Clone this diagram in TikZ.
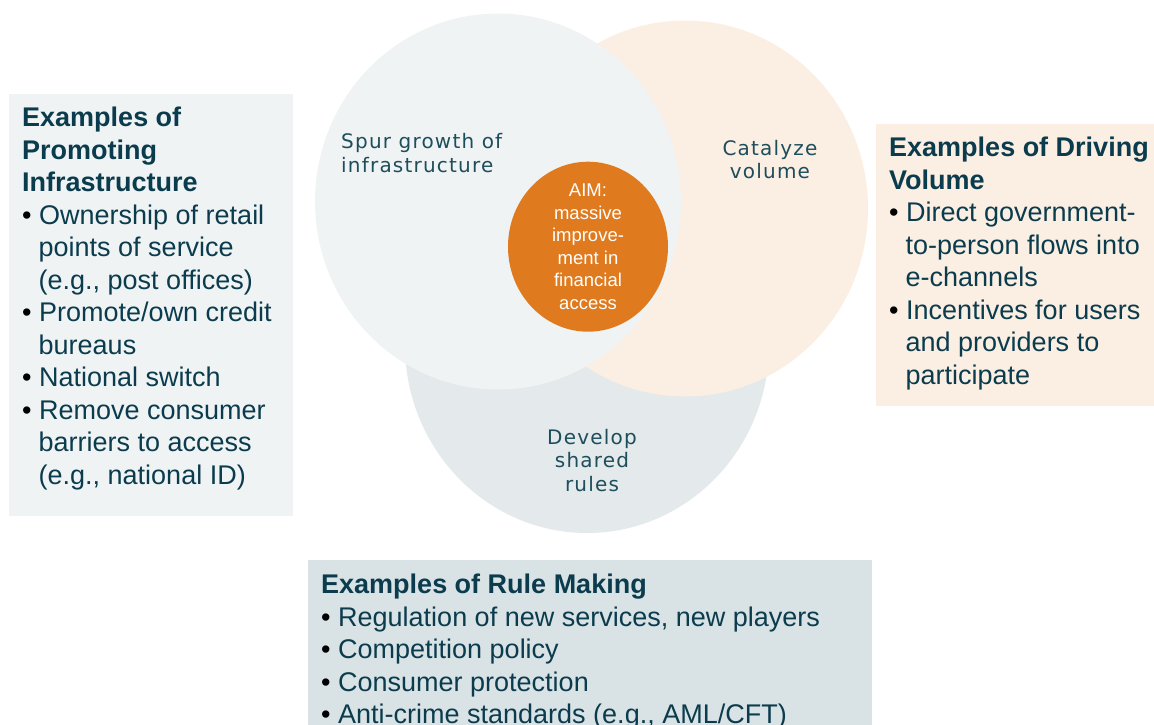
\documentclass[tikz,border=0pt]{standalone}
\usepackage{fontspec}
\usetikzlibrary{shapes.geometric}
\setmainfont{Liberation Sans}
\newfontfamily\circfont[LetterSpace=6]{DejaVu Sans}
\definecolor{inkteal}{HTML}{0B3C4D}
\definecolor{labelteal}{HTML}{1D4E5C}
\definecolor{infrafill}{HTML}{F0F3F4}
\definecolor{volfill}{HTML}{FBEEE3}
\definecolor{rulefill}{HTML}{E4E9EB}
\definecolor{rulebox}{HTML}{D9E2E5}
\definecolor{aimfill}{HTML}{DF7A1E}
% bullet item with hanging indent; continuation lines are broken with \newline
\newcommand\bitem[1]{\par\hangindent=16.5pt\hangafter=1\noindent\makebox[17pt][l]{\color{black}•}#1}
\tikzset{
  boxtext/.style={anchor=base west, inner sep=0pt, text=inkteal,
    font=\fontsize{27}{32.5}\selectfont},
  circlabel/.style={anchor=base, inner sep=0pt, text=labelteal,
    font=\circfont\fontsize{20}{23.5}\selectfont},
  aimlabel/.style={anchor=base, inner sep=0pt, text=white,
    font=\fontsize{18.5}{22.5}\selectfont},
}
\begin{document}
\begin{tikzpicture}[x=1pt,y=-1pt]
\useasboundingbox (0,0) rectangle (1154,725);
% example boxes
\fill[infrafill] (9,94) rectangle (293,516);
\fill[volfill] (876,124) rectangle (1154,406);
\fill[rulebox] (308,560) rectangle (872,725);
% three overlapping circles, then the aim in the middle
\fill[rulefill] (587,345) ellipse [x radius=182pt, y radius=188pt];
\fill[volfill] (685,208.5) ellipse [x radius=183pt, y radius=188pt];
\fill[infrafill] (498,201.5) ellipse [x radius=183pt, y radius=188pt];
\node[ellipse, fill=aimfill, minimum width=160pt, minimum height=170pt, inner sep=0pt] (aim) at (588,246.7) {};
% circle labels
\node[circlabel, anchor=base west] (infra) at (341,148.5)
  {\parbox[t]{200pt}{\raggedright Spur growth of\\infrastructure}};
\node[circlabel] (vol) at (770,155)
  {\parbox[t]{160pt}{\centering Catalyze\\volume}};
\node[circlabel] (rules) at (592,444)
  {\parbox[t]{160pt}{\centering Develop\\shared\\rules}};
\node[aimlabel] (aimtext) at (aim.center |- 0,196.7)
  {\parbox[t]{140pt}{\centering AIM:\\massive\\improve-\\ment in\\financial\\access}};
% example texts
\node[boxtext] (infraex) at (22,126.7) {\parbox[t]{270pt}{\raggedright
  \textbf{Examples of\\Promoting\\Infrastructure}
  \bitem{Ownership of retail\newline points of service\newline (e.g., post offices)}
  \bitem{Promote/own credit\newline bureaus}
  \bitem{National switch}
  \bitem{Remove consumer\newline barriers to access\newline (e.g., national ID)}}};
\node[boxtext] (volex) at (889,156.7) {\parbox[t]{270pt}{\raggedright
  \textbf{Examples of Driving\\Volume}
  \bitem{Direct government-\newline to-person flows into\newline e-channels}
  \bitem{Incentives for users\newline and providers to\newline participate}}};
\node[boxtext] (ruleex) at (321,593.5) {\parbox[t]{560pt}{\raggedright
  \textbf{Examples of Rule Making}
  \bitem{Regulation of new services, new players}
  \bitem{Competition policy}
  \bitem{Consumer protection}
  \bitem{Anti-crime standards (e.g., AML/CFT)}}};
\end{tikzpicture}
\end{document}
